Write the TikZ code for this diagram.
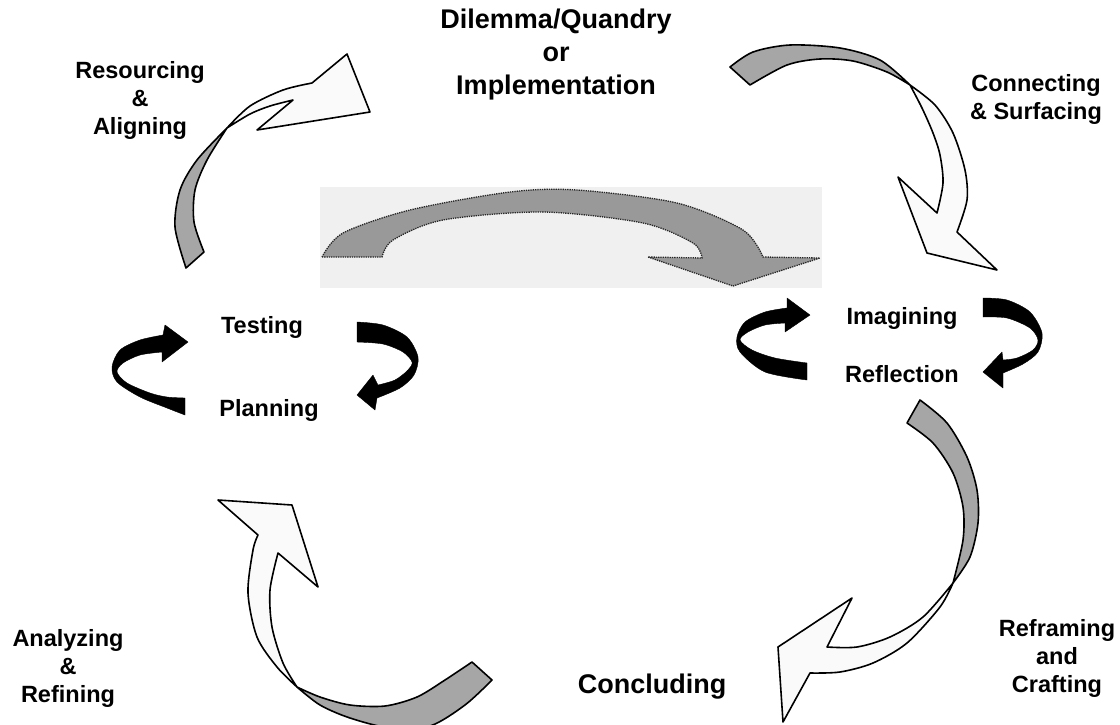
\documentclass[tikz,border=0pt]{standalone}
\usepackage{fontspec}
\setmainfont{Liberation Sans}
\begin{document}
\begin{tikzpicture}[x=1pt,y=-1pt,
  tailpart/.style={fill=black!35, draw=black, line width=1.6pt, line join=round},
  headpart/.style={fill=black!2, draw=black, line width=1.6pt, line join=round},
  midarrow/.style={fill=black!40, draw=black!85, densely dotted, line width=1.3pt},
  midbg/.style={fill=black!6, draw=none},
  blk/.style={fill=black, draw=black, line width=0.4pt, line join=round},
  lbl/.style={font=\fontsize{23.5}{28}\selectfont\bfseries, align=center, inner sep=0pt},
  big/.style={font=\fontsize{27}{33}\selectfont\bfseries, align=center, inner sep=0pt}]
\useasboundingbox (0,0) rectangle (1120,724);
\clip (0,0) rectangle (1120,724);
\fill[white] (0,0) rectangle (1120,724);

% ---- centre arrow on its light background
\fill[midbg] (320,187) rectangle (822,288);
\filldraw[midarrow] plot[smooth] coordinates {(322,257) (343,233) (410,210) (510,192) (577,190) (677,203) (743,230) (763,257)}
  -- (820,258) -- (733,286) -- (648,257) -- (702,258)
  -- plot[smooth] coordinates {(702,258) (693,243) (643,223) (543,212) (443,220) (393,240) (382,257)} -- cycle;

% ---- Resourcing arrow (top left)
\filldraw[tailpart] plot[smooth] coordinates {(186,268) (175,227) (180,190) (197,160) (227,128)}
  -- plot[smooth] coordinates {(227,128) (207,160) (195,190) (194,222) (204,252)} -- cycle;
\filldraw[headpart] plot[smooth] coordinates {(227,128) (250,106) (283,90) (312,83)}
  -- (347,54) -- (370,112) -- (257,130) -- (293,100)
  -- plot[smooth] coordinates {(293,100) (270,106) (250,114) (227,128)} -- cycle;

% ---- Connecting arrow (top right)
\filldraw[tailpart] plot[smooth] coordinates {(730,67) (753,52) (790,45) (840,48) (880,60) (910,85)}
  -- plot[smooth] coordinates {(910,85) (887,72) (853,61) (820,59) (787,65) (750,85)} -- cycle;
\filldraw[headpart] plot[smooth] coordinates {(910,85) (935,105) (953,133) (965,170) (967,200) (957,232)}
  -- (997,270) -- (927,253) -- (898,177) -- (937,213)
  -- plot[smooth] coordinates {(937,213) (943,183) (940,155) (933,133) (922,108) (910,85)} -- cycle;

% ---- Reframing arrow (bottom right)
\filldraw[tailpart] plot[smooth] coordinates {(920,400) (947,423) (967,457) (977,490) (978,523) (970,557) (953,583)}
  -- plot[smooth] coordinates {(953,583) (963,540) (963,507) (953,473) (933,443) (907,423)} -- cycle;
\filldraw[headpart] plot[smooth] coordinates {(953,583) (940,607) (907,643) (873,663) (840,672) (810,673)}
  -- (783,722) -- (778,647) -- (852,598) -- (827,647)
  -- plot[smooth] coordinates {(827,647) (857,647) (890,637) (923,617) (953,583)} -- cycle;

% ---- Analyzing arrow (bottom left)
\filldraw[tailpart] plot[smooth] coordinates {(472,662) (445,680) (417,697) (385,706) (350,705) (320,697) (297,687)}
  -- plot[smooth] coordinates {(297,687) (320,705) (350,718) (390,728) (430,726) (465,705) (492,680)} -- cycle;
\filldraw[headpart] plot[smooth] coordinates {(297,687) (277,667) (257,637) (248,593) (253,550) (258,535)}
  -- (218,500) -- (292,505) -- (318,587) -- (278,553)
  -- plot[smooth] coordinates {(278,553) (270,590) (272,627) (283,663) (297,687)} -- cycle;

% ---- black circular arrows
\filldraw[blk] plot[smooth] coordinates {(163,335) (140,340) (120,350) (112,367) (117,382) (140,397) (167,408) (185,415)}
  -- (185,398) -- plot[smooth] coordinates {(185,398) (167,397) (150,393) (127,383) (117,372) (123,363) (140,355) (162,352)}
  -- (162,362) -- (188,342) -- (165,325) -- cycle;
\filldraw[blk] plot[smooth] coordinates {(357,322) (383,325) (407,337) (418,357) (414,375) (400,388) (377,398)}
  -- (375,410) -- (357,395) -- (373,375) -- (378,385)
  -- plot[smooth] coordinates {(378,385) (395,380) (408,370) (412,362) (403,352) (383,344) (357,342)} -- cycle;
\filldraw[blk] plot[smooth] coordinates {(787,308) (765,312) (745,322) (737,337) (740,352) (765,372) (807,380)}
  -- (807,363) -- plot[smooth] coordinates {(807,363) (775,358) (752,350) (740,340) (748,332) (765,325) (785,323)}
  -- (785,332) -- (810,315) -- (787,298) -- cycle;
\filldraw[blk] plot[smooth] coordinates {(983,298) (1007,300) (1030,312) (1042,333) (1038,352) (1023,364) (1003,373)}
  -- (1003,388) -- (983,372) -- (1002,352) -- (1003,360)
  -- plot[smooth] coordinates {(1003,360) (1017,358) (1033,350) (1038,340) (1030,328) (1007,318) (983,317)} -- cycle;

% ---- labels
\node[big] (dilemma) at (556,55) {Dilemma/Quandry\\or\\Implementation};
\node[big] (concl) at (652,687) {Concluding};
\node[lbl] (resourcing) at (140,100) {Resourcing\\\&\\Aligning};
\node[lbl] (connecting) at (1036,99) {Connecting\\\& Surfacing};
\node[lbl] (testing) at (262,327) {Testing};
\node[lbl] (planning) at (269,410) {Planning};
\node[lbl] (imagining) at (902,318) {Imagining};
\node[lbl] (reflection) at (902,374) {Reflection};
\node[lbl] (reframing) at (1057,658) {Reframing\\and\\Crafting};
\node[lbl] (analyzing) at (68,668) {Analyzing\\\&\\Refining};
\end{tikzpicture}
\end{document}
